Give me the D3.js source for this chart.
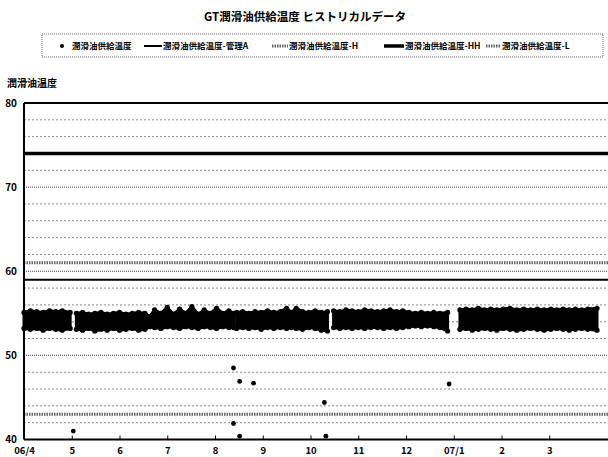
<!DOCTYPE html>
<html>
<head>
    <title>GT潤滑油供給温度</title>
    <script src="https://cdn.jsdelivr.net/npm/d3@7/dist/d3.min.js"></script>
    <style>
        body { margin: 0; background: white; }
        text { font-family: "Noto Sans CJK JP", "Noto Sans", sans-serif; font-weight: bold; fill: black; }
    </style>
</head>
<body>
    <svg width="608" height="457"></svg>
    <script>
        // month ticks
        const monthStarts = ["2006-04-01","2006-05-01","2006-06-01","2006-07-01","2006-08-01","2006-09-01",
                             "2006-10-01","2006-11-01","2006-12-01","2007-01-01","2007-02-01","2007-03-01",
                             "2007-04-01","2007-05-01"];
        const monthLabels = ["06/4","5","6","7","8","9","10","11","12","07/1","2","3"];

        // dense band of readings: upper / lower edge, null = no data
        const bandDates = [
            "2006-04-01","2006-04-05","2006-04-09","2006-04-13","2006-04-17","2006-04-21","2006-04-25","2006-04-30",
            "2006-05-02",
            "2006-05-04","2006-05-08","2006-05-12","2006-05-16","2006-05-20","2006-05-24","2006-05-28","2006-06-01",
            "2006-06-05","2006-06-09","2006-06-13","2006-06-17","2006-06-20","2006-06-23","2006-06-27","2006-07-01",
            "2006-07-05","2006-07-09","2006-07-13","2006-07-17","2006-07-21","2006-07-25","2006-07-29","2006-08-02",
            "2006-08-06","2006-08-10","2006-08-13",
            "2006-08-14",
            "2006-08-15","2006-08-19","2006-08-23","2006-08-27","2006-08-31","2006-09-04","2006-09-08","2006-09-12",
            "2006-09-16","2006-09-19","2006-09-22","2006-09-26","2006-09-30","2006-10-04","2006-10-08","2006-10-12",
            "2006-10-14",
            "2006-10-16","2006-10-20","2006-10-24","2006-10-28","2006-11-01","2006-11-05","2006-11-09","2006-11-13",
            "2006-11-17","2006-11-21","2006-11-25","2006-11-29","2006-12-03","2006-12-07","2006-12-11","2006-12-15",
            "2006-12-19","2006-12-23","2006-12-28",
            "2006-12-31",
            "2007-01-05","2007-01-09","2007-01-13","2007-01-17","2007-01-21","2007-01-25","2007-01-29","2007-02-02",
            "2007-02-06","2007-02-10","2007-02-14","2007-02-18","2007-02-22","2007-02-26","2007-03-02","2007-03-06",
            "2007-03-10","2007-03-14","2007-03-18","2007-03-22","2007-03-26","2007-04-01"
        ];
        const bandHigh = [
            55.1,55.3,55.2,55.1,55.3,55.2,55.3,55.1,
            null,
            55.0,55.1,54.9,55.0,55.1,54.9,55.0,55.1,
            54.9,55.0,55.1,55.0,54.6,55.4,55.0,55.7,
            54.9,55.5,55.0,55.8,54.9,55.4,55.0,55.6,
            55.0,55.3,55.0,
            null,
            55.1,55.2,55.0,55.2,55.1,55.3,55.1,55.2,
            55.6,55.1,55.6,55.2,55.1,55.3,55.1,55.2,
            null,
            55.3,55.2,55.4,55.3,55.2,55.4,55.3,55.2,
            55.3,55.4,55.2,55.3,55.1,55.0,55.1,55.0,
            55.1,55.0,55.1,
            null,
            55.4,55.5,55.4,55.6,55.4,55.5,55.4,55.5,
            55.6,55.4,55.5,55.4,55.5,55.4,55.5,55.4,
            55.5,55.4,55.5,55.4,55.5,55.6
        ];
        const bandLow = [
            53.2,53.1,53.2,53.0,53.2,53.1,53.0,53.2,
            null,
            53.1,53.0,53.2,52.9,53.1,53.0,53.2,53.0,
            53.1,53.2,53.0,53.1,53.4,53.3,53.2,53.4,
            53.3,53.2,53.4,53.3,53.2,53.4,53.3,53.2,
            53.4,53.3,53.3,
            null,
            53.2,53.3,53.2,53.3,53.1,53.3,53.2,53.3,
            53.2,53.3,53.2,53.1,53.3,53.2,53.0,52.9,
            null,
            53.3,53.2,53.3,53.2,53.3,53.2,53.3,53.3,
            53.2,53.3,53.2,53.3,53.4,53.5,53.4,53.5,
            53.4,53.3,52.9,
            null,
            53.1,53.2,53.0,53.1,53.2,53.1,53.0,53.2,
            53.1,53.0,53.1,53.2,53.1,53.0,53.1,53.2,
            53.1,53.0,53.1,53.2,53.1,53.0
        ];

        // isolated readings
        const pointDates  = ["2006-05-02","2006-08-13","2006-08-13","2006-08-17","2006-08-17","2006-08-26","2006-10-10","2006-10-11","2006-12-29"];
        const pointValues = [41.0, 48.5, 41.9, 46.9, 40.4, 46.7, 44.4, 40.4, 46.6];

        // limit lines
        const limitNames  = ["潤滑油供給温度-管理A","潤滑油供給温度-H","潤滑油供給温度-HH","潤滑油供給温度-L"];
        const limitValues = [59, 61, 74, 43];

        const yTicks = [40, 50, 60, 70, 80];

        const parse = d3.timeParse("%Y-%m-%d");
        const svg = d3.select('svg');

        const plotLeft = 24, plotTop = 103, plotBottom = 439.5, plotRight = 612;
        const monthW = 47.75;

        // evenly spaced months (polylinear time scale)
        const x = d3.scaleTime()
            .domain(monthStarts.map(parse))
            .range(monthStarts.map((d, i) => plotLeft + i * monthW));
        const y = d3.scaleLinear().domain([40, 80]).range([plotBottom, plotTop]);

        // title
        svg.append('text')
            .attr('x', 305).attr('y', 21)
            .attr('text-anchor', 'middle')
            .attr('font-size', 11.5)
            .text('GT潤滑油供給温度  ヒストリカルデータ');

        // legend
        const legend = svg.append('g');
        legend.append('rect')
            .attr('x', 42).attr('y', 34).attr('width', 561).attr('height', 23)
            .attr('fill', 'none').attr('stroke', '#666').attr('stroke-dasharray', '1,1');

        const legY = 46;
        legend.append('circle').attr('cx', 62).attr('cy', legY).attr('r', 2);
        legend.append('text').attr('x', 72).attr('y', legY + 3).attr('font-size', 8.5).text('潤滑油供給温度');

        const legX = [144, 272, 384, 486];
        const legLen = [18, 16, 20, 15];
        const legStyle = [
            {stroke: '#000', w: 2, dash: null},
            {stroke: '#666', w: 3, dash: '1.5,1'},
            {stroke: '#000', w: 3.5, dash: null},
            {stroke: '#666', w: 3, dash: '1.5,1'}
        ];
        limitNames.forEach((n, i) => {
            legend.append('line')
                .attr('x1', legX[i]).attr('x2', legX[i] + legLen[i])
                .attr('y1', legY).attr('y2', legY)
                .attr('stroke', legStyle[i].stroke)
                .attr('stroke-width', legStyle[i].w)
                .attr('stroke-dasharray', legStyle[i].dash);
            legend.append('text')
                .attr('x', legX[i] + legLen[i] + 1).attr('y', legY + 3)
                .attr('font-size', 8.5).text(n);
        });

        // y axis title
        svg.append('text').attr('x', 7).attr('y', 87).attr('font-size', 10).text('潤滑油温度');

        // grid every 2 degrees
        const grid = d3.range(42, 80, 2);
        svg.append('g').selectAll('line')
            .data(grid)
            .join('line')
                .attr('x1', plotLeft).attr('x2', plotRight)
                .attr('y1', d => y(d)).attr('y2', d => y(d))
                .attr('stroke', d => d % 10 == 0 ? '#444' : '#888')
                .attr('stroke-width', 1)
                .attr('stroke-dasharray', d => d % 10 == 0 ? '1,1' : '2,2');

        // band
        const band = bandDates.map((d, i) => ({date: parse(d), hi: bandHigh[i], lo: bandLow[i]}));
        const area = d3.area()
            .defined(d => d.hi != null)
            .x(d => x(d.date))
            .y0(d => y(d.lo))
            .y1(d => y(d.hi));
        svg.append('path')
            .attr('d', area(band))
            .attr('fill', '#000')
            .attr('stroke', '#000')
            .attr('stroke-width', 3)
            .attr('stroke-linejoin', 'round')
            .attr('stroke-linecap', 'round');

        // edge readings of the band as dots
        const edges = band.filter(d => d.hi != null);
        svg.append('g').selectAll('circle.hi')
            .data(edges)
            .join('circle')
                .attr('cx', d => x(d.date)).attr('cy', d => y(d.hi)).attr('r', 2.6);
        svg.append('g').selectAll('circle.lo')
            .data(edges)
            .join('circle')
                .attr('cx', d => x(d.date)).attr('cy', d => y(d.lo)).attr('r', 2.6);

        // limit lines
        svg.append('g').selectAll('line')
            .data(limitValues)
            .join('line')
                .attr('x1', plotLeft).attr('x2', plotRight)
                .attr('y1', d => y(d)).attr('y2', d => y(d))
                .attr('stroke', (d, i) => legStyle[i].stroke)
                .attr('stroke-width', (d, i) => legStyle[i].w)
                .attr('stroke-dasharray', (d, i) => legStyle[i].dash);

        // isolated points
        svg.append('g').selectAll('circle')
            .data(pointDates)
            .join('circle')
                .attr('cx', d => x(parse(d)))
                .attr('cy', (d, i) => y(pointValues[i]))
                .attr('r', 2.4)
                .attr('fill', '#000');

        // frame
        svg.append('line').attr('x1', plotLeft).attr('x2', plotRight).attr('y1', plotTop).attr('y2', plotTop)
            .attr('stroke', '#000').attr('stroke-width', 2);

        const yAxis = svg.append('g')
            .attr('transform', `translate(${plotLeft},0)`)
            .call(d3.axisLeft(y).tickValues(yTicks).tickSize(0).tickPadding(7));
        yAxis.select('.domain').attr('stroke-width', 2).attr('d', `M0,${plotTop}V${plotBottom}`);
        yAxis.selectAll('text').attr('font-size', 10).style('font-family', '"Noto Sans CJK JP", sans-serif').style('font-weight', 'bold');

        const xAxis = svg.append('g')
            .attr('transform', `translate(0,${plotBottom})`)
            .call(d3.axisBottom(x)
                .tickValues(monthStarts.slice(0, 12).map(parse))
                .tickFormat((d, i) => monthLabels[i])
                .tickSizeInner(-4).tickSizeOuter(0).tickPadding(8));
        xAxis.select('.domain').attr('stroke-width', 2).attr('d', `M${plotLeft},0H${plotRight}`);
        xAxis.selectAll('text').attr('font-size', 9.5).style('font-family', '"Noto Sans CJK JP", sans-serif').style('font-weight', 'bold');
    </script>
</body>
</html>
